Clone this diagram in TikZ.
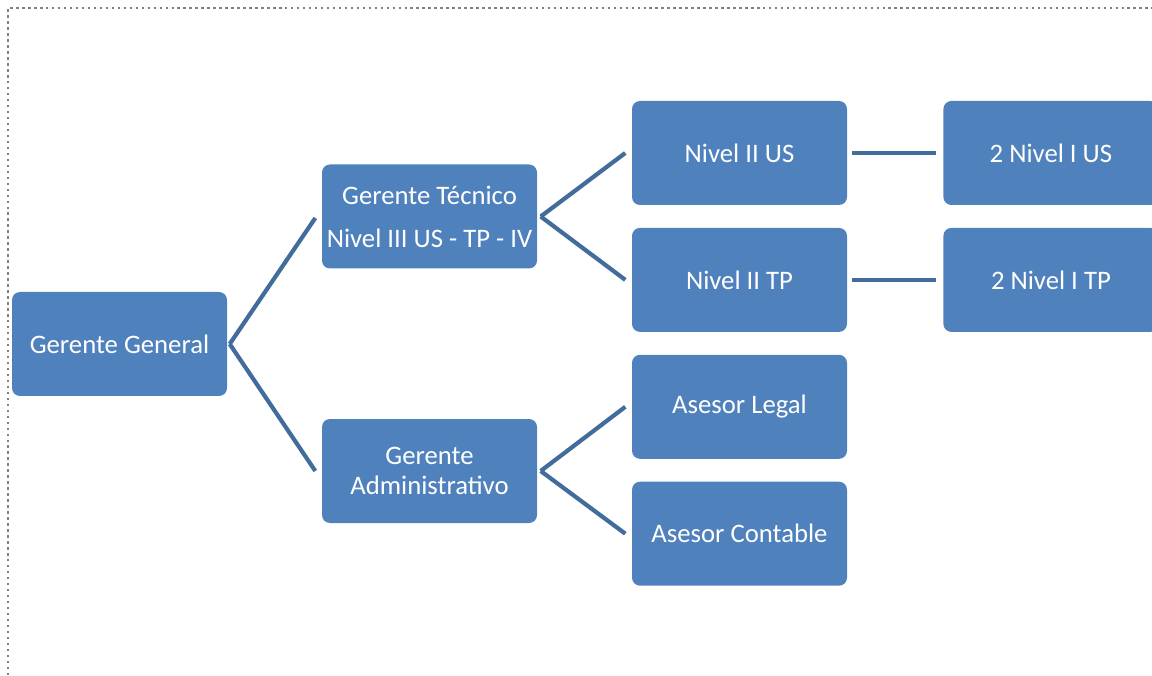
\documentclass[tikz,border=0pt]{standalone}
\usepackage{fontspec}
\setmainfont{Carlito}
\usepackage{tikz}
\usetikzlibrary{positioning}

\definecolor{boxblue}{RGB}{79,129,189}
\definecolor{linkblue}{RGB}{65,108,155}

\begin{document}
\begin{tikzpicture}[node distance=0.215cm and 0.95cm,
                    every node/.style={fill=boxblue,
                      rectangle,
                      rounded corners=0.08cm,
                      minimum width = 2.15cm,
                      minimum height = 1.04cm,
                      inner sep=0pt,
                      text=white,
                      align=center,
                      font=\fontsize{7.6}{8.7}\selectfont},
                    link/.style={draw=linkblue, line width=0.042cm}]
\useasboundingbox (0,0) rectangle (11.52,6.75);
\clip (0,0) rectangle (11.52,6.75);
\draw[gray, densely dotted, line width=0.7pt] (0.08,0) -- (0.08,6.67) -- (11.52,6.67);
\node (gg) at (1.195,3.31) {Gerente General};
\node (gt) at (4.295,4.585) {Gerente Técnico\\[3.5pt]Nivel III US - TP - IV};
\node (ga) at (4.295,2.04) {Gerente\\Administrativo};
\node (n2us) at (7.395,5.22) {Nivel II US};
\node (n2tp) [below = of n2us] {Nivel II TP};
\node (legal) [below = of n2tp] {Asesor Legal};
\node (contable) [below = of legal] {Asesor Contable};
\node (n1us) [right = of n2us] {2 Nivel I US};
\node (n1tp) [right = of n2tp] {2 Nivel I TP};
\draw[link] ([xshift=0.02cm]gg.east) -- ([xshift=-0.06cm,yshift=-0.015cm]gt.west);
\draw[link] ([xshift=0.02cm]gg.east) -- ([xshift=-0.06cm]ga.west);
\draw[link] ([xshift=0.03cm]gt.east) -- ([xshift=-0.06cm]n2us.west);
\draw[link] ([xshift=0.03cm]gt.east) -- ([xshift=-0.06cm]n2tp.west);
\draw[link] ([xshift=0.03cm]ga.east) -- ([xshift=-0.06cm]legal.west);
\draw[link] ([xshift=0.03cm]ga.east) -- ([xshift=-0.06cm]contable.west);
\draw[link] ([xshift=0.04cm]n2us.east) -- ([xshift=-0.07cm]n1us.west);
\draw[link] ([xshift=0.04cm]n2tp.east) -- ([xshift=-0.07cm]n1tp.west);
\end{tikzpicture}
\end{document}
